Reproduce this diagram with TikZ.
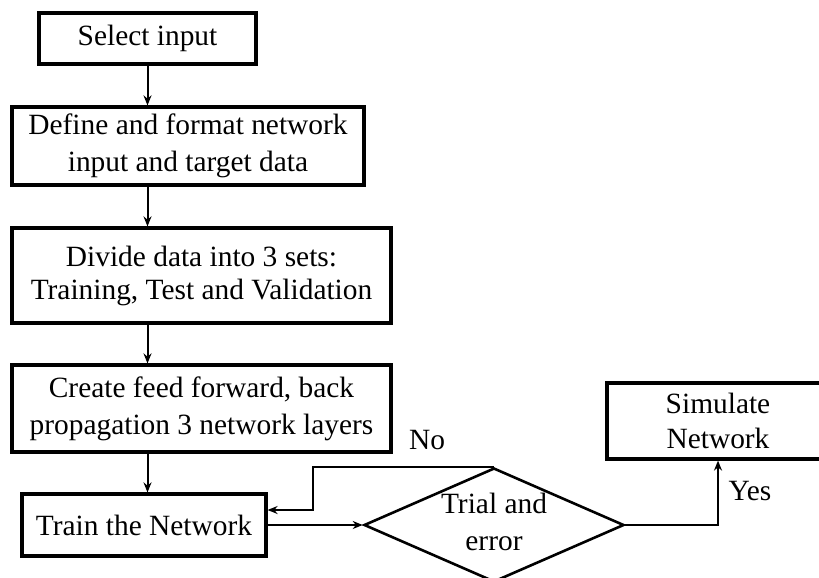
\documentclass[tikz,border=0pt]{standalone}
\usepackage{fontspec}
\setmainfont{Liberation Serif}
\usetikzlibrary{arrows.meta,shapes.geometric}
\begin{document}
\begin{tikzpicture}[x=1pt,y=-1pt,
  font=\fontsize{29.4}{37}\selectfont,
  box/.style={draw,line width=3.2pt,inner sep=0pt,align=center},
  arr/.style={line width=2pt,-{Stealth[length=10pt,width=8pt]}},
  lbl/.style={inner sep=0pt}]
\useasboundingbox (0,0) rectangle (819,578);
\clip (0,0) rectangle (819,578);
\node[box,minimum width=217pt,minimum height=51pt] (b1) at (147.5,38.5) {Select input};
\node[box,minimum width=352pt,minimum height=78pt] (b2) at (188,146) {Define and format network\\input and target data};
\node[box,minimum width=379pt,minimum height=95pt,font=\fontsize{29.4}{33}\selectfont] (b3) at (201.5,275.5) {Divide data into 3 sets:\\Training, Test and Validation};
\node[box,minimum width=379pt,minimum height=87pt] (b4) at (201.5,408.5) {Create feed forward, back\\propagation 3 network layers};
\node[box,minimum width=244pt,minimum height=62pt] (tr) at (144,525) {Train the Network};
\node[draw,diamond,line width=2.6pt,minimum width=260pt,minimum height=114pt,inner sep=0pt] (dia) at (494,525) {};
\node[lbl,align=center] (dt) at (494,522) {Trial and\\error};
\node[box,minimum width=222pt,minimum height=76pt,font=\fontsize{29.4}{35}\selectfont] (sim) at (718,421) {Simulate\\Network};
\node[lbl] (no) at (427,440) {No};
\node[lbl] (yes) at (750,491) {Yes};
\draw[arr] (b1.south) -- (b2.north -| b1.south);
\draw[arr] (b2.south -| b1.south) -- (b3.north -| b1.south);
\draw[arr] (b3.south -| b1.south) -- (b4.north -| b1.south);
\draw[arr] (b4.south -| b1.south) -- (tr.north -| b1.south);
\draw[arr] (tr.east) -- (dia.west);
\draw[arr] (dia.north) -- ++(-181,0) |- ([yshift=15pt]tr.east);
\draw[arr] (dia.east) -| (sim.south);
\end{tikzpicture}
\end{document}
